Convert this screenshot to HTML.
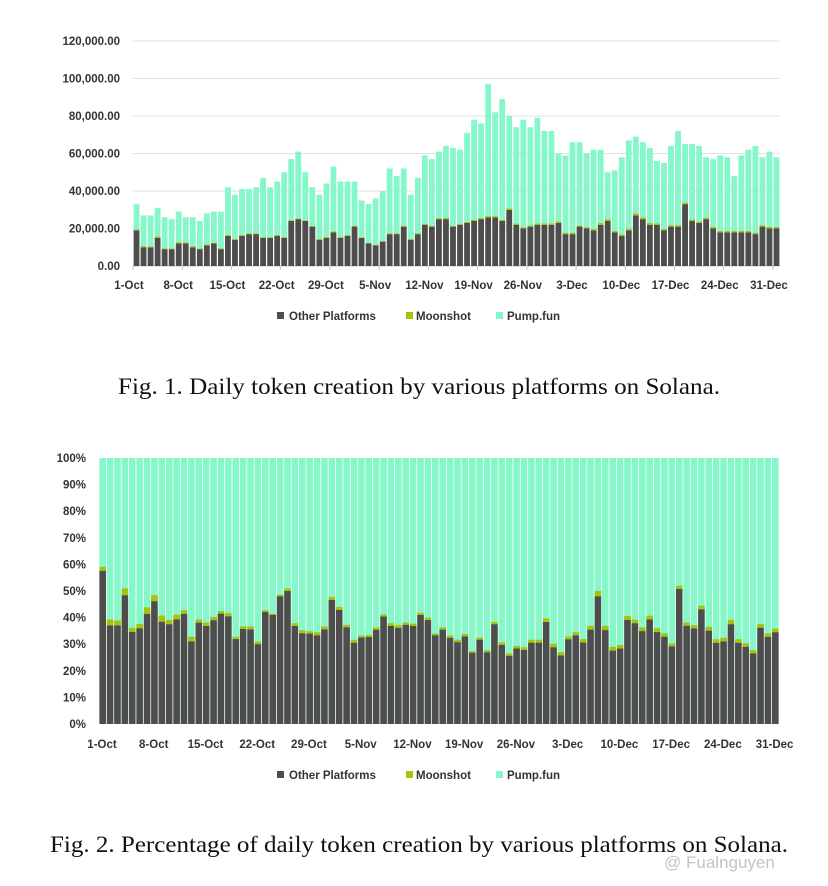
<!DOCTYPE html>
<html><head><meta charset="utf-8">
<style>
html,body{margin:0;padding:0;background:#fff;width:828px;height:886px;overflow:hidden;}
svg text{font-family:"Liberation Sans",sans-serif;}
.cap{font-family:"Liberation Serif",serif;font-size:23px;fill:#111;}
.tk{font-size:11.5px;font-weight:bold;fill:#333;}
.lg{font-size:11.5px;font-weight:bold;fill:#333;}
</style></head>
<body>
<svg id="svg" width="828" height="886">
<g id="c1"></g>
<g id="c2"></g>
<text class="cap" x="118" y="394" textLength="602" lengthAdjust="spacingAndGlyphs">Fig. 1.  Daily token creation by various platforms on Solana.</text>
<text class="cap" x="50" y="852" textLength="738" lengthAdjust="spacingAndGlyphs">Fig. 2.  Percentage of daily token creation by various platforms on Solana.</text>
<text x="664" y="868" font-size="17" fill="#c4c4c4">@ Fualnguyen</text>
</svg>
<script>
// Values in thousands
const otherVals=[19,10,10,15,9,9,12,12,10,9,11,12,9,16,14,16,17,17,15,15,16,15,24,25,24,21,14,15,18,15,16,
21,15,12,11,13,17,17,21,14,17,22,21,25,25,21,22,23,24,25,26,26,24,30,22,20,21,22,22,22,23,
17,17,21,20,19,22,24,18,16,19,27,25,22,22,19,21,21,33,24,23,25,20,18,18,18,18,18,17,21,20,20];
const moonVals=[0.5,0.6,0.5,0.8,0.4,0.4,0.7,0.6,0.6,0.4,0.5,0.4,0.5,0.5,0.5,0.5,0.4,0.5,0.4,0.4,0.5,0.5,0.4,0.3,0.3,0.4,0.4,0.5,0.5,0.5,0.5,
0.5,0.4,0.3,0.4,0.3,0.4,0.4,0.4,0.4,0.5,0.5,0.5,0.5,0.6,0.4,0.5,0.6,0.7,0.7,0.6,0.6,0.7,0.7,0.7,0.7,0.7,0.8,0.8,0.8,0.8,
0.8,0.8,0.7,0.7,0.8,0.9,1.0,0.8,0.8,0.9,1.0,0.9,0.9,0.8,0.8,0.8,0.8,0.8,0.8,0.8,0.8,0.8,0.8,0.8,0.8,0.8,0.8,0.8,0.8,0.8,0.8];
const totalVals=[33,27,27,31,26,25,29,26,26,24,28,29,29,42,38,41,41,42,47,42,45,50,57,61,50,42,38,44,53,45,45,
45,35,33,36,40,52,48,52,38,47,59,57,61,64,63,62,71,78,76,97,82,89,80,74,78,74,79,72,72,60,
59,66,66,60,62,62,50,51,58,67,69,66,63,56,55,64,72,65,65,64,58,57,59,58,48,59,62,64,58,61,58];
const xLabels=["1-Oct","8-Oct","15-Oct","22-Oct","29-Oct","5-Nov","12-Nov","19-Nov","26-Nov","3-Dec","10-Dec","17-Dec","24-Dec","31-Dec"];
const yTicks1=[0,20000,40000,60000,80000,100000,120000];
const yTicks2=[0,10,20,30,40,50,60,70,80,90,100];

const NS="http://www.w3.org/2000/svg";
const C_OTHER="#4d4d4d",C_MOON="#a5c30a",C_PUMP="#86f7c8";
function mk(p,t,a){const e=document.createElementNS(NS,t);for(const k in a)e.setAttribute(k,a[k]);p.appendChild(e);return e;}
const n=totalVals.length;

// chart 1
(function(){
 const g=document.getElementById('c1');
 const L=133,R=780,T=41,B=266,max=120000;
 const bw=(R-L)/n;
 const y=v=>B-v/max*(B-T);
 const x=i=>L+i*bw;
 yTicks1.forEach(v=>{
  const ln=mk(g,'line',{x1:L,x2:R,y1:y(v),y2:y(v),stroke:v?"#e0e0e0":"#c8c8c8","stroke-width":1});
  
  const t=mk(g,'text',{x:120,y:y(v)+4,"text-anchor":"end",class:"tk"});
  t.textContent=v.toLocaleString('en-US',{minimumFractionDigits:2});
  
 });
 for(let i=0;i<n;i++){
  const o=otherVals[i]*1000,m=moonVals[i]*1000,tot=totalVals[i]*1000;
  const p=Math.max(tot-o-m,0);
  const r1=mk(g,'rect',{x:x(i)+0.6,width:bw-1.2,y:y(o),height:B-y(o),fill:C_OTHER});
  
  const r2=mk(g,'rect',{x:x(i)+0.6,width:bw-1.2,y:y(o+m),height:y(o)-y(o+m),fill:C_MOON});
  
  const r3=mk(g,'rect',{x:x(i)+0.6,width:bw-1.2,y:y(o+m+p),height:y(o+m)-y(o+m+p),fill:C_PUMP});
  
 }
 xLabels.forEach((s,k)=>{
  const xi=x(k*7);
  mk(g,'line',{x1:xi,x2:xi,y1:B,y2:B+4,stroke:"#c8c8c8"});
  const t=mk(g,'text',{x:xi-4,y:289,"text-anchor":"middle",class:"tk"});t.textContent=s;
  
 });
 legend(g,316);
})();

// chart 2
(function(){
 const g=document.getElementById('c2');
 const L=99,R=779,T=458,B=724;
 const bw=(R-L)/n;
 const y=v=>B-v/100*(B-T);
 const x=i=>L+i*bw;
 yTicks2.forEach(v=>{
  const t=mk(g,'text',{x:86,y:y(v)+4,"text-anchor":"end",class:"tk"});t.textContent=v+"%";
  
 });
 for(let i=0;i<n;i++){
  const tot=totalVals[i];
  const o=otherVals[i]/tot*100,m=moonVals[i]/tot*100;
  const r3=mk(g,'rect',{x:x(i)+0.4,width:bw-0.8,y:T,height:B-T,fill:C_PUMP});
  
  const r2=mk(g,'rect',{x:x(i)+0.4,width:bw-0.8,y:y(o+m),height:y(o)-y(o+m),fill:C_MOON});
  
  const r1=mk(g,'rect',{x:x(i)+0.4,width:bw-0.8,y:y(o),height:B-y(o),fill:C_OTHER});
  
 }
 xLabels.forEach((s,k)=>{
  const xi=x(k*7);
  const t=mk(g,'text',{x:xi+3,y:748,"text-anchor":"middle",class:"tk"});t.textContent=s;
  
 });
 legend(g,775);
})();

function legend(g,yc){
 const items=[[277,289,"Other Platforms",C_OTHER],[406,416,"Moonshot",C_MOON],[496,507,"Pump.fun",C_PUMP]];
 items.forEach(it=>{
  const s=mk(g,'rect',{x:it[0],y:yc-4,width:7,height:7,fill:it[3]});
  
  const t=mk(g,'text',{x:it[1],y:yc+4,class:"lg"});t.textContent=it[2];
  
 });
}
</script>
</body></html>
